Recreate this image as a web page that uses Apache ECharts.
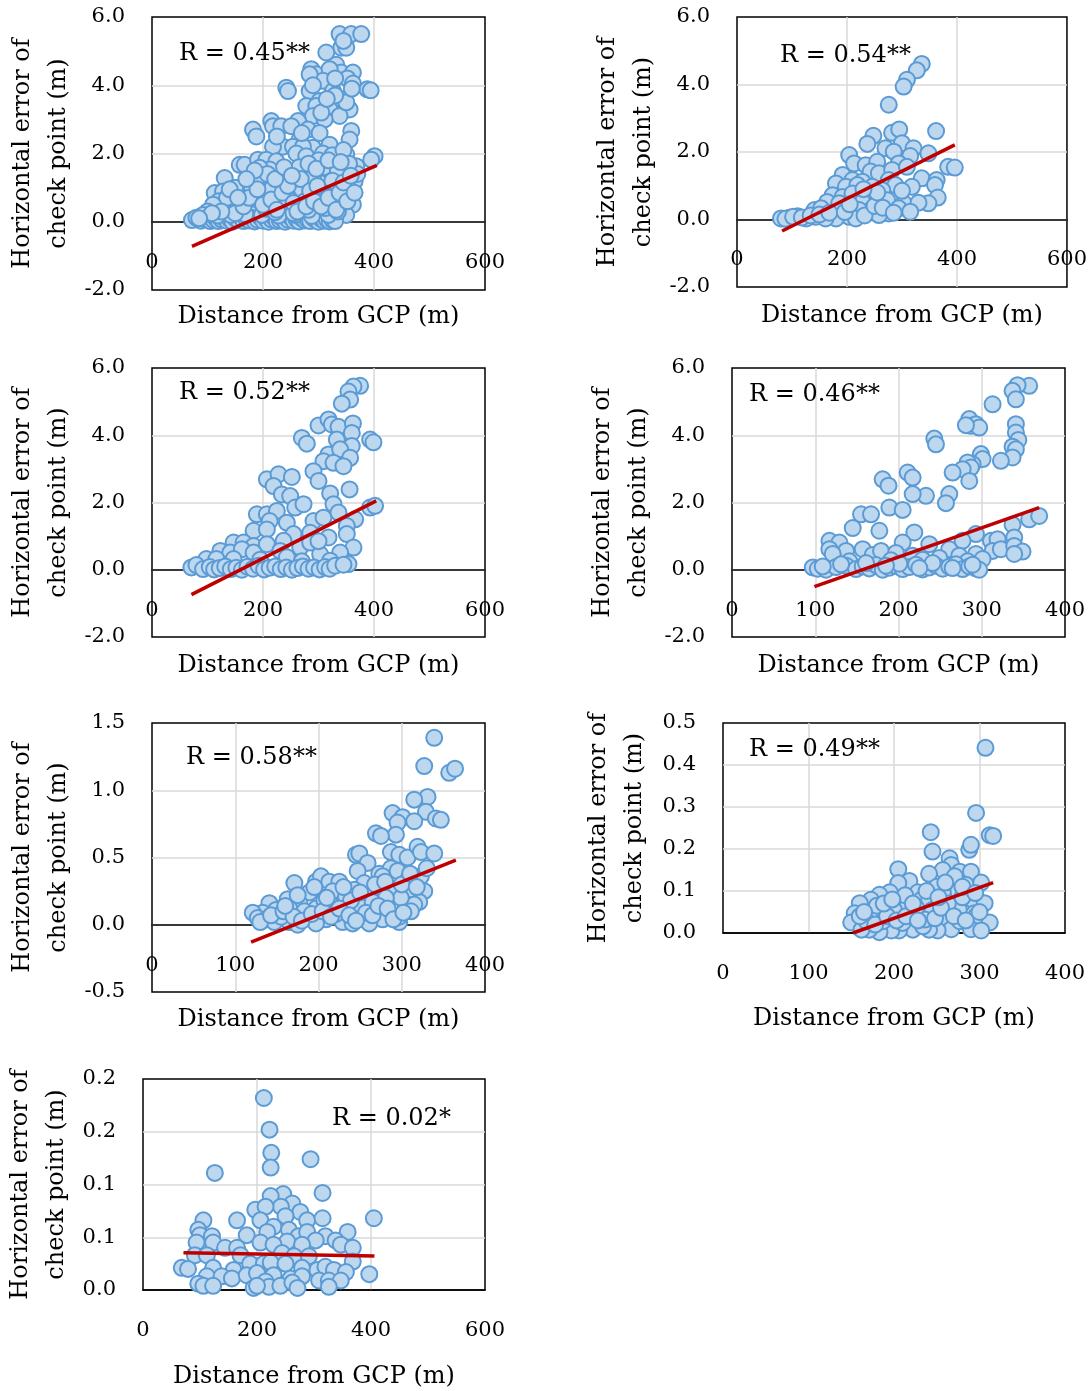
<!DOCTYPE html>
<html lang="en">
<head>
    <meta charset="UTF-8">
    <title>Horizontal error vs distance from GCP</title>
    <script src="https://cdn.jsdelivr.net/npm/echarts@6/dist/echarts.min.js"></script>
    <style>
        html, body { margin: 0; padding: 0; background: #fff; }
        #chart { width: 1090px; height: 1391px; }
    </style>
</head>
<body>
<div id="chart"></div>
<script>
// ---- data: [distance (m), horizontal error (m)] ----
const p1Points = [
    [338,5.5],[359,5.5],[377,5.5],[341,5.1],[350,5.1],[345,5.3],[314,4.96],[332,4.6],[341,4.37],[362,4.37],
    [287,4.47],[296,4.32],[320,4.47],[308,4.13],[284,4.32],[352,4.2],[362,4.05],[388,3.88],[394,3.85],[242,3.93],
    [245,3.83],[284,3.83],[326,3.83],[341,3.59],[302,3.54],[278,3.39],[296,3.39],[320,3.29],[356,3.29],[338,3.1],
    [290,3.1],[311,3.0],[263,2.95],[350,3.5],[330,3.7],[360,3.9],
    [182,2.7],[188,2.5],[215,2.95],[218,2.8],[233,2.8],[251,2.8],[281,2.7],[302,2.6],[359,2.66],[356,2.41],
    [266,2.41],[236,2.2],[218,2.2],[254,2.2],[320,2.26],[290,2.17],[272,2.2],
    [401,1.92],[395,1.82],[158,1.67],[167,1.67],[191,1.82],[206,1.82],[224,1.77],[260,2.0],[278,1.92],[308,2.0],
    [332,1.72],[350,1.97],[368,1.63],[242,1.43],[212,1.53],[194,1.58],[287,1.53],[314,1.43],[341,1.33],[131,1.28],
    [176,1.14],[200,1.23],[218,1.09],[260,1.14],[278,1.14],[302,1.14],[365,1.19],[332,1.04],[113,0.84],[128,0.89],
    [146,0.79],[164,0.74],[182,0.84],[200,0.7],[224,0.74],[260,0.7],[290,0.84],[314,0.65],[344,0.79],[362,0.5],
    [128,0.55],[152,0.5],[176,0.45],[206,0.45],[248,0.45],[260,0.4],[296,0.4],[326,0.45],[350,0.2],
    [120,0.6],[140,0.35],[160,0.3],[185,0.25],[210,0.3],[230,0.55],[240,0.2],[270,0.3],[285,0.55],[305,0.25],
    [320,0.9],[340,0.55],[355,0.95],[370,1.4],[230,1.0],[250,0.9],[270,0.95],[290,1.3],[310,1.6],[180,1.0],
    [195,0.6],[150,1.0],[135,0.7],[110,0.5],[100,0.3],[240,1.2],[265,1.6],[300,1.8],[325,1.95],[345,2.1],
    [72,0.05],[80,0.12],[88,0.03],[95,0.08],[100,0.15],[105,0.02],[110,0.06],[115,0.1],[120,0.02],[125,0.07],
    [130,0.12],[135,0.03],[140,0.08],[145,0.0],[150,0.1],[155,0.05],[160,0.14],[165,0.02],[170,0.08],[175,0.04],
    [180,0.11],[185,0.01],[190,0.06],[195,0.13],[200,0.03],[205,0.09],[210,0.0],[215,0.07],[220,0.12],[225,0.02],
    [230,0.05],[235,0.1],[240,0.0],[245,0.06],[250,0.13],[255,0.03],[260,0.08],[265,0.01],[270,0.1],[275,0.04],
    [280,0.07],[285,0.02],[290,0.11],[295,0.05],[300,0.0],[305,0.08],[310,0.03],[315,0.06],[320,0.01],[325,0.05],
    [330,0.02],[118,0.18],[142,0.2],[168,0.22],[198,0.2],[228,0.18],[258,0.2],[288,0.17],[318,0.2],[92,0.2],
    [205,0.38],[222,0.28],[255,0.25],[282,0.35],[312,0.4],[335,0.3],[245,0.65],[275,0.6],[300,0.6],[215,0.95],
    [190,1.3],[170,0.6],[335,1.5],[355,1.7],[225,2.5],[270,2.6],[305,3.2],[315,3.6],[290,4.0],[330,4.2],
    [150,0.25],[165,0.45],[175,0.7],[190,0.95],[200,0.5],[215,0.65],[225,0.35],[235,0.85],[245,1.05],[255,0.55],
    [262,0.3],[268,1.25],[278,0.45],[285,0.9],[292,0.6],[298,1.05],[305,0.45],[318,0.7],[325,1.2],[332,0.35],
    [338,0.85],[345,1.15],[352,0.6],[358,1.35],[365,0.85],[208,1.4],[222,1.25],[238,1.6],[252,1.35],[282,1.7],
    [296,1.55],[318,1.8],[340,1.75],[185,1.5],[170,1.25],[140,0.95],[155,0.7],[125,0.3],[108,0.25],[85,0.1]
];
const p1Trend = [[72,-0.72],[405,1.65]];

const p2Points = [
    [336,4.61],[327,4.42],[309,4.14],[303,3.94],[276,3.4],
    [362,2.62],[282,2.57],[295,2.67],[248,2.48],[237,2.24],[300,2.26],[321,2.11],[270,2.11],[285,2.01],[204,1.91],
    [348,1.96],[315,1.88],[213,1.66],[234,1.61],[255,1.71],[294,1.66],[384,1.56],[396,1.54],[243,1.42],[258,1.37],
    [282,1.47],[309,1.56],[192,1.32],[210,1.17],[228,1.12],[276,1.17],[336,1.22],[363,1.17],[360,1.02],[180,1.07],
    [198,0.97],[246,0.97],[288,1.02],[318,0.97],[264,0.87],[219,1.02],[174,0.72],[192,0.67],[210,0.77],[240,0.67],
    [273,0.57],[365,0.65],[164,0.52],[186,0.48],[228,0.52],[303,0.48],[348,0.48],[330,0.5],[294,0.33],[315,0.23],
    [243,0.28],[276,0.18],[222,0.28],[141,0.28],[153,0.33],[204,0.08],[180,0.03],[216,0.03],[258,0.13],[80,0.03],
    [95,0.05],[110,0.1],[126,0.03],[143,0.08],[161,0.03],[88,0.02],[102,0.08],[118,0.06],[134,0.12],[150,0.15],
    [168,0.2],[196,0.22],[232,0.12],[250,0.4],[265,0.35],[285,0.2],[300,0.85],[255,0.8],[230,0.9],[205,0.45]
];
const p2Trend = [[82,-0.34],[396,2.21]];

const p3Points = [
    [375,5.47],[363,5.45],[354,5.3],[357,5.06],[342,4.94],
    [300,4.29],[318,4.47],[324,4.32],[336,4.25],[362,4.35],[360,4.07],[333,3.87],[270,3.92],[279,3.75],[393,3.87],
    [399,3.79],[360,3.68],[318,3.43],[339,3.58],[357,3.33],[309,3.23],[327,3.18],[345,3.08],[291,2.93],[300,2.64],
    [207,2.69],[228,2.84],[252,2.76],[219,2.49],[234,2.24],[249,2.19],[321,2.27],[356,2.39],[258,1.85],[273,1.95],
    [327,1.95],[189,1.65],[207,1.65],[225,1.75],[212,1.45],[243,1.4],[291,1.45],[309,1.55],[336,1.7],[366,1.5],
    [393,1.85],[402,1.9],[351,1.3],
    [183,1.16],[207,1.2],[255,1.06],[285,1.1],[318,0.96],[351,1.06],[147,0.81],[165,0.81],[183,0.71],[207,0.76],
    [237,0.86],[267,0.66],[285,0.81],[363,0.66],[123,0.56],[141,0.51],[162,0.61],[183,0.51],[231,0.56],[339,0.51],
    [303,0.46],[98,0.32],[116,0.32],[147,0.32],[243,0.37],[354,0.17],[321,0.27],[195,0.3],[270,0.25],[300,0.85],
    [71,0.07],[80,0.14],[92,0.02],[104,0.08],[112,0.01],[122,0.05],[132,0.1],[142,0.02],[152,0.06],[162,0.0],
    [172,0.09],[182,0.03],[192,0.12],[202,0.01],[212,0.06],[222,0.1],[232,0.02],[242,0.07],[252,0.0],[262,0.05],
    [272,0.1],[282,0.03],[292,0.07],[302,0.01],[312,0.08],[320,0.03],[330,0.12],[345,0.15]
];
const p3Trend = [[71,-0.74],[404,2.05]];

const p4Points = [
    [357,5.47],[343,5.49],[337,5.32],[341,5.07],[313,4.92],
    [285,4.48],[287,4.28],[293,4.33],[297,4.23],[281,4.3],[341,4.33],[341,4.08],[344,3.86],[337,3.66],[341,3.58],
    [337,3.34],[323,3.24],[243,3.9],[245,3.73],[299,3.44],[301,3.29],[289,3.14],[283,3.19],[287,3.04],[277,2.99],
    [265,2.89],[285,2.64],[261,2.25],[257,1.98],[233,2.2],
    [181,2.69],[188,2.5],[211,2.89],[217,2.74],[217,2.25],[189,1.85],[205,1.78],[155,1.65],[167,1.65],[177,1.16],
    [145,1.24],[219,1.11],[357,1.5],[369,1.6],[337,1.34],[293,1.06],[339,0.96],[117,0.86],[129,0.81],[117,0.61],
    [137,0.56],[121,0.47],[157,0.61],[169,0.44],[179,0.56],[205,0.81],[237,0.76],[261,0.61],[277,0.86],[311,0.86],
    [319,0.91],[313,0.56],[323,0.61],[339,0.71],[349,0.54],[339,0.47],[293,0.47],[301,0.32],[197,0.5],[217,0.42],
    [273,0.42],[229,0.3],[249,0.35],[283,0.25],[191,0.28],[141,0.25],
    [97,0.07],[103,0.03],[113,0.0],[125,0.08],[137,0.12],[149,0.02],[157,0.1],[165,0.04],[173,0.14],[181,0.0],
    [189,0.06],[197,0.11],[205,0.02],[213,0.08],[221,0.15],[229,0.01],[237,0.07],[245,0.12],[253,0.03],[261,0.09],
    [269,0.16],[277,0.02],[285,0.1],[293,0.04],[297,0.0],[109,0.1],[131,0.16],[161,0.2],[201,0.18],[241,0.2],
    [265,0.05],[289,0.15],[225,0.05],[185,0.12]
];
const p4Trend = [[99,-0.5],[369,1.85]];

const p5Points = [
    [339,1.39],[327,1.18],[357,1.13],[364,1.16],[331,0.95],[315,0.93],[329,0.84],[289,0.83],[341,0.79],[347,0.78],
    [301,0.8],[295,0.76],[315,0.77],[293,0.67],[269,0.68],[275,0.66],[245,0.52],[249,0.53],[259,0.46],[287,0.54],
    [297,0.52],[307,0.5],[319,0.58],[323,0.54],[339,0.53],[247,0.4],[273,0.38],[287,0.42],[295,0.4],[307,0.33],
    [323,0.36],[327,0.25],[313,0.26],[321,0.17],[305,0.14],[315,0.15],[289,0.27],[299,0.2],
    [171,0.31],[197,0.32],[203,0.36],[213,0.32],[225,0.32],[217,0.25],[201,0.21],[189,0.24],[233,0.21],[255,0.31],
    [277,0.36],[261,0.22],[281,0.2],[163,0.19],[177,0.16],[141,0.16],[149,0.11],[165,0.12],[133,0.09],[121,0.09],
    [127,0.05],[137,0.04],[147,0.02],[197,0.12],[217,0.14],[233,0.11],[249,0.15],[269,0.11],[285,0.09],[185,0.05],
    [209,0.04],[229,0.02],[253,0.04],[277,0.04],[297,0.02],[261,0.01],[241,0.01],[197,0.01],[165,0.02],[297,0.06],
    [183,0.1],[207,0.18],[243,0.26],[265,0.17],[155,0.06],[175,0.0],[221,0.08],[257,0.09],[239,0.18],[311,0.1],
    [130,0.02],[143,0.07],[158,0.1],[170,0.06],[180,0.03],[192,0.08],[205,0.1],[215,0.06],[225,0.12],[237,0.07],
    [245,0.03],[265,0.07],[272,0.14],[283,0.12],[290,0.04],[302,0.09],[160,0.14],[175,0.22],[195,0.28],[210,0.2],
    [230,0.28],[250,0.24],[268,0.3],[280,0.32],[300,0.3],[310,0.38],[318,0.28],[330,0.42]
];
const p5Trend = [[119,-0.13],[365,0.48]];

const p6Points = [
    [307,0.441],[296,0.286],[312,0.233],[316,0.231],[243,0.24],[245,0.194],[288,0.198],[290,0.21],[265,0.178],
    [267,0.162],[257,0.15],[277,0.146],[290,0.146],[205,0.152],[218,0.124],[205,0.119],[241,0.141],[269,0.123],
    [284,0.115],[302,0.12],[275,0.099],[257,0.095],[228,0.097],[195,0.097],[183,0.091],[173,0.079],[160,0.071],
    [154,0.047],[150,0.025],[292,0.079],[306,0.071],[232,0.079],[241,0.079],[216,0.067],[191,0.059],[175,0.047],
    [200,0.055],[222,0.047],[245,0.055],[261,0.044],[276,0.055],[294,0.047],[296,0.04],[312,0.025],[290,0.009],
    [302,0.006],[259,0.025],[267,0.009],[251,0.006],[241,0.008],[222,0.008],[206,0.006],[197,0.006],[183,0.002],
    [171,0.008],[162,0.008],[234,0.016],[210,0.024],[187,0.028],[168,0.028],[277,0.028],[236,0.032],[263,0.07],
    [280,0.085],[250,0.11],[226,0.06],[180,0.065],[160,0.04],[213,0.09],[271,0.135],
    [165,0.05],[178,0.02],[192,0.04],[203,0.03],[214,0.04],[228,0.03],[248,0.035],[255,0.06],[270,0.04],[284,0.03],
    [300,0.05],[188,0.07],[198,0.08],[222,0.07],[238,0.1],[252,0.085],[260,0.12],[280,0.11],[295,0.095]
];
const p6Trend = [[152,0.0],[316,0.12]];

const p7Points = [
    [212,0.182],[222,0.152],[225,0.13],[224,0.116],[294,0.124],[126,0.111],[315,0.092],[246,0.091],[224,0.089],
    [262,0.082],[242,0.079],[197,0.076],[215,0.079],[276,0.074],[250,0.07],[288,0.066],[315,0.068],[405,0.068],
    [106,0.066],[165,0.066],[206,0.066],[229,0.06],[256,0.057],[218,0.055],[273,0.051],[288,0.055],[320,0.051],
    [359,0.055],[338,0.047],[97,0.057],[100,0.052],[121,0.051],[182,0.052],[253,0.046],[303,0.047],[94,0.045],
    [123,0.045],[206,0.045],[279,0.043],[347,0.043],[368,0.04],[144,0.04],[165,0.04],[229,0.043],[91,0.033],
    [112,0.033],[171,0.033],[244,0.035],[265,0.032],[291,0.032],[368,0.027],[68,0.021],[79,0.02],[123,0.021],
    [159,0.019],[188,0.025],[212,0.025],[224,0.026],[250,0.025],[279,0.021],[306,0.019],[320,0.022],[335,0.019],
    [356,0.017],[397,0.015],[112,0.013],[138,0.013],[156,0.011],[182,0.014],[200,0.016],[229,0.014],[259,0.011],
    [279,0.013],[309,0.009],[326,0.009],[347,0.009],[97,0.006],[106,0.004],[123,0.004],[194,0.002],[215,0.008],
    [221,0.003],[241,0.004],[262,0.007],[271,0.002],[326,0.003],[200,0.004]
];
const p7Trend = [[71,0.0354],[406,0.0323]];

const rLabels = ['R = 0.45**', 'R = 0.54**', 'R = 0.52**', 'R = 0.46**', 'R = 0.58**', 'R = 0.49**', 'R = 0.02*'];
const xTitle = 'Distance from GCP (m)';
const yTitle = 'Horizontal error of\ncheck point (m)';

// ---- layout ----
const FONT = '"DejaVu Serif", serif';
const panels = [
    { box: [152, 17, 333, 273],  x: [0, 600, 200], y: [-2, 6, 2],      pts: p1Points, trend: p1Trend, r: [179, 54],   xGap: 83, yGap: 75 },
    { box: [737, 17, 333, 270],  x: [0, 600, 200], y: [-2, 6, 2],      pts: p2Points, trend: p2Trend, r: [780, 56],   xGap: 84, yGap: 75 },
    { box: [152, 368, 333, 269], x: [0, 600, 200], y: [-2, 6, 2],      pts: p3Points, trend: p3Trend, r: [179, 393],  xGap: 84, yGap: 75 },
    { box: [732, 368, 333, 269], x: [0, 400, 100], y: [-2, 6, 2],      pts: p4Points, trend: p4Trend, r: [749, 395],  xGap: 84, yGap: 75 },
    { box: [152, 723, 333, 269], x: [0, 400, 100], y: [-0.5, 1.5, 0.5], pts: p5Points, trend: p5Trend, r: [186, 758], xGap: 83, yGap: 75 },
    { box: [723, 723, 342, 210], x: [0, 400, 100], y: [0, 0.5, 0.1],   pts: p6Points, trend: p6Trend, r: [749, 750],  xGap: 74, yGap: 70 },
    { box: [143, 1079, 342, 211], x: [0, 600, 200], y: [0, 0.2, 0.05], pts: p7Points, trend: p7Trend, r: [332, 1119], xGap: 75, yGap: 68 }
];

function fmt1(v) {
    return (Math.round(v * 10 + 1e-9) / 10).toFixed(1);
}

const grid = [], xAxis = [], yAxis = [], series = [], graphic = [];
panels.forEach((p, i) => {
    // the x axis sits on the zero line, as in the spreadsheet chart
    const zeroUp = p.box[3] * (0 - p.y[0]) / (p.y[1] - p.y[0]);
    grid.push({
        left: p.box[0], top: p.box[1], width: p.box[2], height: p.box[3],
        show: true, borderColor: '#000', borderWidth: 1.5, backgroundColor: '#fff'
    });
    xAxis.push({
        gridIndex: i, type: 'value', min: p.x[0], max: p.x[1], interval: p.x[2],
        offset: -zeroUp,
        name: xTitle, nameLocation: 'middle', nameGap: p.xGap,
        nameTextStyle: { fontFamily: FONT, fontSize: 24, color: '#000' },
        axisLine: { show: true, onZero: false, lineStyle: { color: '#000', width: 1.5 } },
        axisTick: { show: false },
        axisLabel: { margin: 30, fontFamily: FONT, fontSize: 21, color: '#000' },
        splitLine: { show: true, showMinLine: false, showMaxLine: false, lineStyle: { color: '#d9d9d9', width: 1.5 } }
    });
    yAxis.push({
        gridIndex: i, type: 'value', min: p.y[0], max: p.y[1], interval: p.y[2],
        name: yTitle, nameLocation: 'middle', nameGap: p.yGap,
        nameTextStyle: { fontFamily: FONT, fontSize: 24, color: '#000', lineHeight: 36 },
        axisLine: { show: false, onZero: false },
        axisTick: { show: false },
        axisLabel: { margin: 27, fontFamily: FONT, fontSize: 21, color: '#000', formatter: fmt1 },
        splitLine: { show: true, showMinLine: false, showMaxLine: false, lineStyle: { color: '#d9d9d9', width: 1.5 } }
    });
    series.push({
        type: 'scatter', xAxisIndex: i, yAxisIndex: i, data: p.pts,
        symbol: 'circle', symbolSize: 16,
        itemStyle: { color: '#bdd7ee', borderColor: '#5b9bd5', borderWidth: 2, opacity: 1 },
        z: 3
    });
    series.push({
        type: 'line', xAxisIndex: i, yAxisIndex: i, data: p.trend,
        showSymbol: false, symbol: 'none',
        lineStyle: { color: '#c00000', width: 3.5 },
        z: 4
    });
    graphic.push({
        type: 'text', x: p.r[0], y: p.r[1], z: 10,
        style: { text: rLabels[i], fontFamily: FONT, fontSize: 24, fill: '#000', verticalAlign: 'middle' }
    });
});

const chart = echarts.init(document.getElementById('chart'), null, { renderer: 'canvas' });
chart.setOption({
    animation: false,
    backgroundColor: '#fff',
    grid: grid,
    xAxis: xAxis,
    yAxis: yAxis,
    series: series,
    graphic: graphic
});
</script>
</body>
</html>
